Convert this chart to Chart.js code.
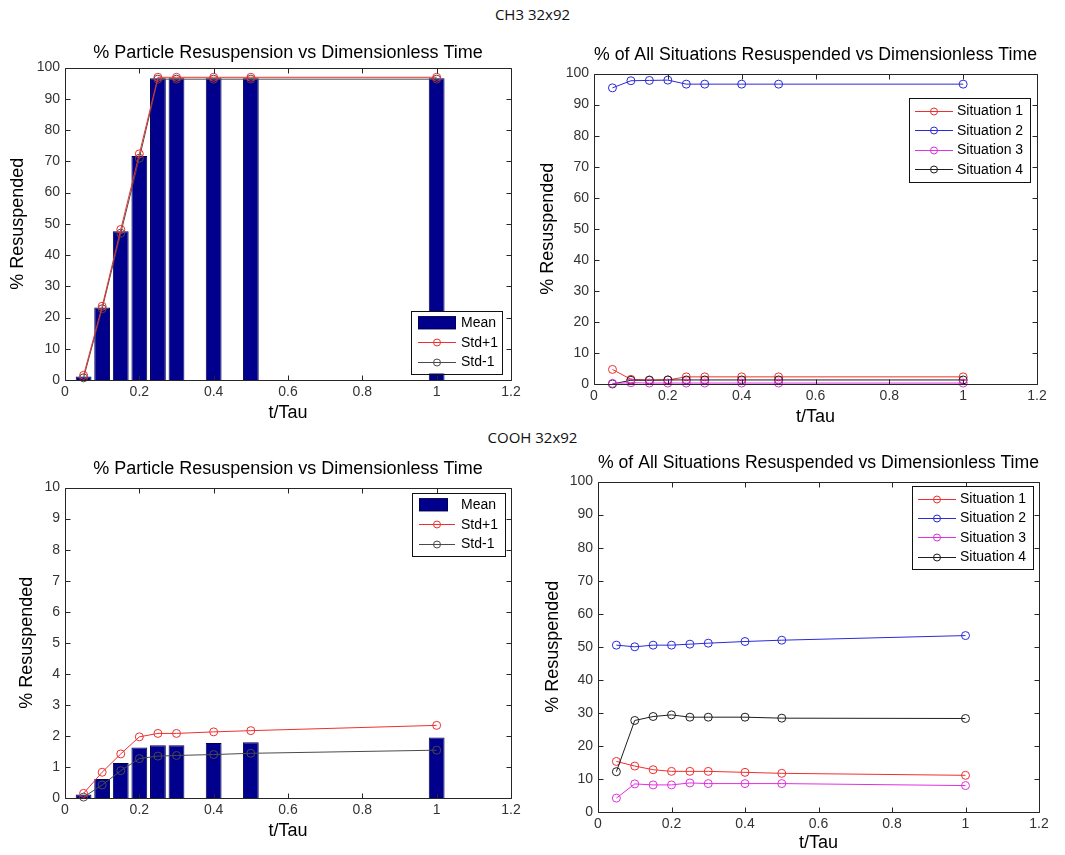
<!DOCTYPE html>
<html><head><meta charset="utf-8">
<script src="https://cdn.jsdelivr.net/npm/chart.js@4.4.1/dist/chart.umd.min.js"></script>
<style>
html,body{margin:0;padding:0;background:#fff;}
body{width:1065px;height:855px;position:relative;overflow:hidden;}
canvas{position:absolute;}
.sup{position:absolute;left:0;width:1065px;text-align:center;font-family:"Open Sans",sans-serif;font-size:15px;line-height:20px;color:#111;}
</style></head><body>
<div class="sup" style="top:4px">CH3 32x92</div>
<div class="sup" style="top:427px">COOH 32x92</div>
<canvas id="c1" width="530" height="400" style="left:0;top:30px"></canvas>
<canvas id="c2" width="535" height="400" style="left:530px;top:30px"></canvas>
<canvas id="c3" width="530" height="415" style="left:0;top:440px"></canvas>
<canvas id="c4" width="535" height="415" style="left:530px;top:440px"></canvas>
<script>
// ---- data ----
const tTau = [0.05, 0.1, 0.15, 0.2, 0.25, 0.3, 0.4, 0.5, 1.0];
const xTicks = [0, 0.2, 0.4, 0.6, 0.8, 1, 1.2];
const yTicksPct = [0, 10, 20, 30, 40, 50, 60, 70, 80, 90, 100];
const yTicksSmall = [0, 1, 2, 3, 4, 5, 6, 7, 8, 9, 10];

// CH3 32x92
const ch3Mean     = [1.1, 23.2, 47.6, 71.7, 96.6, 96.6, 96.6, 96.6, 96.6];
const ch3StdPlus  = [1.5, 23.6, 48.2, 72.4, 96.9, 96.9, 96.9, 96.9, 96.9];
const ch3StdMinus = [0.7, 22.8, 47.0, 71.0, 96.3, 96.3, 96.3, 96.3, 96.3];
const ch3Sit1 = [4.7, 1.5, 1.3, 1.3, 2.3, 2.3, 2.3, 2.3, 2.3];
const ch3Sit2 = [95.4, 97.7, 97.8, 97.9, 96.6, 96.6, 96.6, 96.6, 96.6];
const ch3Sit3 = [0.2, 0.4, 0.3, 0.3, 0.3, 0.3, 0.3, 0.3, 0.3];
const ch3Sit4 = [0.0, 1.2, 1.2, 1.3, 1.3, 1.3, 1.3, 1.3, 1.3];

// COOH 32x92
const coMean     = [0.11, 0.61, 1.13, 1.63, 1.70, 1.70, 1.77, 1.80, 1.95];
const coStdPlus  = [0.15, 0.83, 1.42, 1.97, 2.08, 2.08, 2.13, 2.17, 2.34];
const coStdMinus = [0.03, 0.42, 0.88, 1.27, 1.35, 1.37, 1.40, 1.44, 1.54];
const coSit1 = [15.3, 13.9, 12.8, 12.3, 12.3, 12.3, 12.0, 11.7, 11.1];
const coSit2 = [50.5, 50.0, 50.5, 50.5, 50.8, 51.1, 51.6, 52.0, 53.4];
const coSit3 = [4.2, 8.5, 8.2, 8.2, 8.8, 8.6, 8.6, 8.6, 8.0];
const coSit4 = [12.2, 27.7, 28.9, 29.4, 28.7, 28.7, 28.7, 28.4, 28.3];

const titleLeft = '% Particle Resuspension vs Dimensionless Time';
const titleRight = '% of All Situations Resuspended vs Dimensionless Time';
const xLabel = 't/Tau';
const yLabel = '% Resuspended';

// ---- styling ----
const FONT = '"Liberation Sans", Arial, Helvetica, sans-serif';
const C_BAR = '#00008c', C_BAR_EDGE = '#000050';
const C_RED = '#ee3030', C_BLUE = '#2a2ad8', C_MAG = '#e030e0', C_BLK = '#1e1e1e', C_GRY = '#4a4a4a';

function pts(arr) { return tTau.map((x, i) => ({ x: x, y: arr[i] })); }

function lineDs(label, arr, color, order) {
  return { type: 'line', label: label, data: pts(arr), borderColor: color, borderWidth: 1,
    pointStyle: 'circle', pointRadius: 4, pointBorderWidth: 1, pointBorderColor: color,
    pointBackgroundColor: 'rgba(0,0,0,0)', tension: 0, fill: false, clip: false, order: order };
}
function barDs(label, arr) {
  return { type: 'bar', label: label, data: pts(arr), backgroundColor: C_BAR, borderColor: C_BAR_EDGE,
    borderWidth: 1, categoryPercentage: 0.85, barPercentage: 1.0, order: 10 };
}

const matlabAxes = {
  id: 'matlabAxes',
  afterDatasetsDraw(chart) {
    const { ctx, chartArea: a, scales: { x, y } } = chart;
    const L = Math.round(a.left) + 0.5, R = Math.round(a.right) + 0.5;
    const T = Math.round(a.top) + 0.5, B = Math.round(a.bottom) + 0.5;
    ctx.save();
    ctx.strokeStyle = '#262626'; ctx.lineWidth = 1;
    ctx.beginPath();
    ctx.rect(L, T, R - L, B - T);
    x.ticks.forEach(t => {
      const px = Math.round(x.getPixelForValue(t.value)) + 0.5;
      ctx.moveTo(px, B); ctx.lineTo(px, B - 5);
      ctx.moveTo(px, T); ctx.lineTo(px, T + 5);
    });
    y.ticks.forEach(t => {
      const py = Math.round(y.getPixelForValue(t.value)) + 0.5;
      ctx.moveTo(L, py); ctx.lineTo(L + 5, py);
      ctx.moveTo(R, py); ctx.lineTo(R - 5, py);
    });
    ctx.stroke();
    ctx.restore();
  }
};

const boxLegend = {
  id: 'boxLegend',
  afterDraw(chart, args, o) {
    const { ctx, chartArea: a } = chart;
    const ds = chart.data.datasets;
    const h = ds.length * o.rowH + 2 * o.pad;
    const x0 = Math.round(a.right - o.dx - o.w);
    const y0 = Math.round(o.bottom ? a.bottom - o.dy - h : a.top + o.dy);
    ctx.save();
    ctx.fillStyle = '#fff';
    ctx.fillRect(x0, y0, o.w, h);
    ctx.strokeStyle = '#111'; ctx.lineWidth = 1;
    ctx.strokeRect(x0 + 0.5, y0 + 0.5, o.w, Math.round(h));
    ctx.font = '14px ' + FONT;
    ctx.textBaseline = 'middle'; ctx.textAlign = 'left';
    ds.forEach((d, i) => {
      const cy = y0 + o.pad + o.rowH * (i + 0.5);
      const sx = x0 + o.sampleX;
      if (d.type === 'bar') {
        const pw = o.patchW || o.sampleW;
        ctx.fillStyle = d.backgroundColor;
        ctx.fillRect(sx, cy - 6.5, pw, 13);
        ctx.strokeStyle = d.borderColor;
        ctx.strokeRect(sx + 0.5, cy - 6, pw - 1, 12);
      } else {
        ctx.strokeStyle = d.borderColor;
        ctx.beginPath();
        ctx.moveTo(sx, Math.round(cy) + 0.5); ctx.lineTo(sx + o.sampleW, Math.round(cy) + 0.5);
        ctx.stroke();
        ctx.beginPath();
        ctx.arc(sx + o.sampleW / 2, Math.round(cy) + 0.5, 3.5, 0, Math.PI * 2);
        ctx.stroke();
      }
      ctx.fillStyle = '#000';
      ctx.fillText(d.label, sx + o.sampleW + o.gap, cy + 0.5);
    });
    ctx.restore();
  }
};

function makeChart(id, cfg) {
  return new Chart(document.getElementById(id), {
    type: 'line',
    data: { datasets: cfg.datasets },
    plugins: [matlabAxes, boxLegend],
    options: {
      responsive: false, animation: false, devicePixelRatio: 1,
      layout: { padding: { left: 0, top: 0, bottom: 0, right: cfg.padR } },
      plugins: {
        legend: { display: false }, tooltip: { enabled: false },
        title: { display: true, text: cfg.title, fullSize: false, color: '#000',
          font: { family: FONT, size: 18, weight: 'normal' },
          padding: { top: cfg.tPadT, bottom: cfg.tPadB } },
        boxLegend: cfg.legend
      },
      scales: {
        x: { type: 'linear', min: 0, max: 1.2, offset: false,
          afterBuildTicks: s => { s.ticks = xTicks.map(v => ({ value: v })); },
          afterFit: s => { s.height = cfg.xH; },
          ticks: { font: { family: FONT, size: 14 }, color: '#333', padding: cfg.xTickPad,
            maxRotation: 0, autoSkip: false, callback: v => String(v) },
          grid: { display: false, drawTicks: false }, border: { display: false },
          title: { display: true, text: xLabel, color: '#000', font: { family: FONT, size: 18 },
            padding: { top: 0, bottom: cfg.xTitlePad } } },
        y: { type: 'linear', min: 0, max: cfg.yMax,
          afterBuildTicks: s => { s.ticks = cfg.yTicks.map(v => ({ value: v })); },
          afterFit: s => { s.width = cfg.yW; },
          ticks: { font: { family: FONT, size: 14 }, color: '#333', padding: 5, autoSkip: false,
            callback: v => String(v) },
          grid: { display: false, drawTicks: false }, border: { display: false },
          title: { display: true, text: yLabel, color: '#000', font: { family: FONT, size: 18 },
            padding: { top: cfg.yTitlePad, bottom: 0 } } }
      }
    }
  });
}

makeChart('c1', {
  title: titleLeft, yMax: 100, yTicks: yTicksPct, padR: 19, tPadT: 12, tPadB: 4,
  xH: 50, xTickPad: 4, xTitlePad: 6, yW: 65, yTitlePad: 7,
  legend: { w: 91, rowH: 19.5, pad: 2, dx: 9, dy: 7, bottom: true, sampleX: 7, sampleW: 38, gap: 5 },
  datasets: [barDs('Mean', ch3Mean), lineDs('Std+1', ch3StdPlus, C_RED, 1), lineDs('Std-1', ch3StdMinus, C_GRY, 2)]
});
makeChart('c2', {
  title: titleRight, yMax: 100, yTicks: yTicksPct, padR: 28, tPadT: 14, tPadB: 8,
  xH: 46, xTickPad: 4, xTitlePad: 2, yW: 64, yTitlePad: 7,
  legend: { w: 121, rowH: 19.5, pad: 3, dx: 7, dy: 24, bottom: false, sampleX: 6, sampleW: 38, gap: 4 },
  datasets: [lineDs('Situation 1', ch3Sit1, C_RED, 4), lineDs('Situation 2', ch3Sit2, C_BLUE, 3),
    lineDs('Situation 3', ch3Sit3, C_MAG, 1), lineDs('Situation 4', ch3Sit4, C_BLK, 2)]
});
makeChart('c3', {
  title: titleLeft, yMax: 10, yTicks: yTicksSmall, padR: 19, tPadT: 18, tPadB: 8,
  xH: 57, xTickPad: 4, xTitlePad: 13, yW: 65, yTitlePad: 16,
  legend: { w: 93, rowH: 19.5, pad: 2, dx: 6, dy: 5, bottom: false, sampleX: 7, sampleW: 36, patchW: 29, gap: 6 },
  datasets: [barDs('Mean', coMean), lineDs('Std+1', coStdPlus, C_RED, 1), lineDs('Std-1', coStdMinus, C_GRY, 2)]
});
makeChart('c4', {
  title: titleRight, yMax: 100, yTicks: yTicksPct, padR: 26, tPadT: 12, tPadB: 8,
  xH: 43, xTickPad: 4, xTitlePad: 1, yW: 68, yTitlePad: 12,
  legend: { w: 121, rowH: 19.3, pad: 3, dx: 6, dy: 4, bottom: false, sampleX: 6, sampleW: 38, gap: 4 },
  datasets: [lineDs('Situation 1', coSit1, C_RED, 4), lineDs('Situation 2', coSit2, C_BLUE, 3),
    lineDs('Situation 3', coSit3, C_MAG, 1), lineDs('Situation 4', coSit4, C_BLK, 2)]
});
</script>
</body></html>
